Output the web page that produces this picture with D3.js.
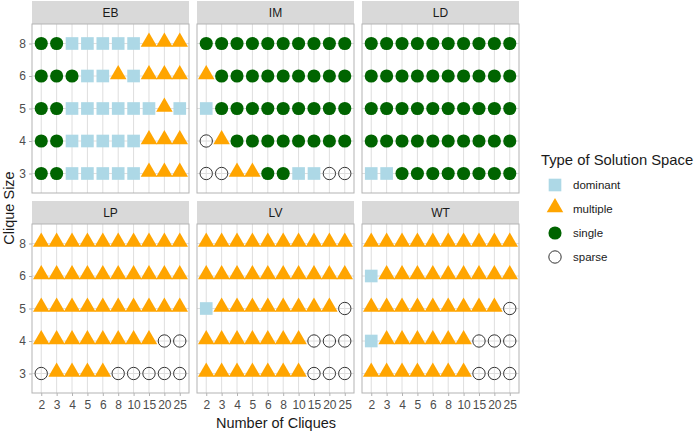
<!DOCTYPE html>
<html><head><meta charset="utf-8">
<script src="https://cdn.jsdelivr.net/npm/d3@7"></script>
<style>body{margin:0;background:#fff}svg{display:block;font-family:"Liberation Sans",Arial,sans-serif}</style>
</head><body><svg id="c" width="698" height="432"></svg>
<script>
const xCats = ["2","3","4","5","6","8","10","15","20","25"];
const yCats = ["3","4","5","6","8"];
const methods = ["EB","IM","LD","LP","LV","WT"];
const types = ["dominant","multiple","single","sparse"];
// codes: D dominant, M multiple, S single, P sparse ; rows per clique size, columns per number of cliques
const EB = {"8":"SSDDDDDMMM","6":"SSSDDMDMMM","5":"SSDDDDDDMD","4":"SSDDDDDMMM","3":"SSDDDDDMMM"};
const IM = {"8":"SSSSSSSSSS","6":"MSSSSSSSSS","5":"DSSSSSSSSS","4":"PMSSSSSSSS","3":"PPMMSSDDPP"};
const LD = {"8":"SSSSSSSSSS","6":"SSSSSSSSSS","5":"SSSSSSSSSS","4":"SSSSSSSSSS","3":"DDSSSSSSSS"};
const LP = {"8":"MMMMMMMMMM","6":"MMMMMMMMMM","5":"MMMMMMMMMM","4":"MMMMMMMMPP","3":"PMMMMPPPPP"};
const LV = {"8":"MMMMMMMMMM","6":"MMMMMMMMMM","5":"DMMMMMMMMP","4":"MMMMMMMPPP","3":"MMMMMMMPPP"};
const WT = {"8":"MMMMMMMMMM","6":"DMMMMMMMMM","5":"MMMMMMMMMP","4":"DMMMMMMPPP","3":"MMMMMMMPPP"};
const grids = {EB, IM, LD, LP, LV, WT};
const codeMap = {D:"dominant", M:"multiple", S:"single", P:"sparse"};

const data = [];
methods.forEach(m => yCats.forEach(y => xCats.forEach((x,i) => {
  data.push({method:m, y, x, type:codeMap[grids[m][y][i]]});
})));

const svg = d3.select("#c");
const colW = 157, colLefts = [32,197,362];
const stripH = 23, bodyH = 169;
const rowTops = [1, 201];

const x = d3.scalePoint().domain(xCats).range([0,colW]).padding(0.6);
const y = d3.scalePoint().domain(yCats.slice().reverse()).range([0,bodyH]).padding(0.6);
const color = d3.scaleOrdinal().domain(types).range(["#add8e6","#ffa500","#006400","none"]);
const shape = d3.scaleOrdinal().domain(types).range([d3.symbolSquare,d3.symbolTriangle,d3.symbolCircle,d3.symbolCircle]);
const size = d3.scaleOrdinal().domain(types).range([160,118,135,120]);

function mark(sel){
  sel.attr("d", d => d3.symbol().type(shape(d.type)).size(size(d.type))())
     .attr("fill", d => color(d.type))
     .attr("stroke", d => d.type==="sparse" ? "#333" : "none")
     .attr("stroke-width", 1);
}

methods.forEach((m, k) => {
  const col = k % 3, row = Math.floor(k/3);
  const gx = colLefts[col], st = rowTops[row], bt = st + stripH;
  svg.append("rect").attr("x",gx).attr("y",st).attr("width",colW).attr("height",stripH).attr("fill","#d9d9d9");
  svg.append("text").attr("x",gx+colW/2).attr("y",st+stripH/2+4.5).attr("text-anchor","middle")
     .attr("font-size",12).attr("fill","#1a1a1a").text(m);
  const g = svg.append("g").attr("transform",`translate(${gx},${bt})`);
  g.append("rect").attr("width",colW).attr("height",bodyH).attr("fill","#fff");
  g.selectAll(".vg").data(xCats).join("line").attr("x1",d=>x(d)).attr("x2",d=>x(d)).attr("y1",0).attr("y2",bodyH)
    .attr("stroke","#dedede").attr("stroke-width",1);
  g.selectAll(".hg").data(yCats).join("line").attr("y1",d=>y(d)).attr("y2",d=>y(d)).attr("x1",0).attr("x2",colW)
    .attr("stroke","#dedede").attr("stroke-width",1);
  g.selectAll("path.pt").data(data.filter(d=>d.method===m)).join("path").attr("class","pt")
    .attr("transform", d => `translate(${x(d.x)},${y(d.y) + (d.type==="multiple"? -1.5:0)})`).call(mark);
  g.append("rect").attr("width",colW).attr("height",bodyH).attr("fill","none").attr("stroke","#b3b3b3").attr("stroke-width",1);
  if (col === 0) {
    const ya = g.append("g").call(d3.axisLeft(y).tickSize(3).tickPadding(3));
    ya.select(".domain").remove();
    ya.selectAll("line").attr("stroke","#b3b3b3");
    ya.selectAll("text").attr("font-size",12).attr("fill","#4d4d4d").attr("font-family","Liberation Sans, Arial, sans-serif");
  }
  if (row === 1) {
    const xa = g.append("g").attr("transform",`translate(0,${bodyH})`).call(d3.axisBottom(x).tickSize(3).tickPadding(4));
    xa.select(".domain").remove();
    xa.selectAll("line").attr("stroke","#b3b3b3");
    xa.selectAll("text").attr("font-size",12).attr("fill","#4d4d4d").attr("font-family","Liberation Sans, Arial, sans-serif");
  }
});

svg.append("text").attr("x",276).attr("y",428).attr("text-anchor","middle").attr("font-size",14.5).attr("fill","#1a1a1a").text("Number of Cliques");
svg.append("text").attr("transform","translate(14,208) rotate(-90)").attr("text-anchor","middle").attr("font-size",14.5).attr("fill","#1a1a1a").text("Clique Size");

const lg = svg.append("g").attr("transform","translate(541,0)");
lg.append("text").attr("x",0).attr("y",165).attr("font-size",14.8).attr("fill","#1a1a1a").text("Type of Solution Space");
const items = lg.selectAll("g.it").data(types).join("g").attr("class","it")
  .attr("transform",(d,i)=>`translate(0,${185 + i*24})`);
items.append("path").attr("transform",d=>`translate(14,${d==="multiple"?-1.5:0})`).datum(d=>({type:d})).call(mark);
items.append("text").attr("x",32).attr("y",4).attr("font-size",11.5).attr("fill","#1a1a1a").text(d=>d);
</script></body></html>
